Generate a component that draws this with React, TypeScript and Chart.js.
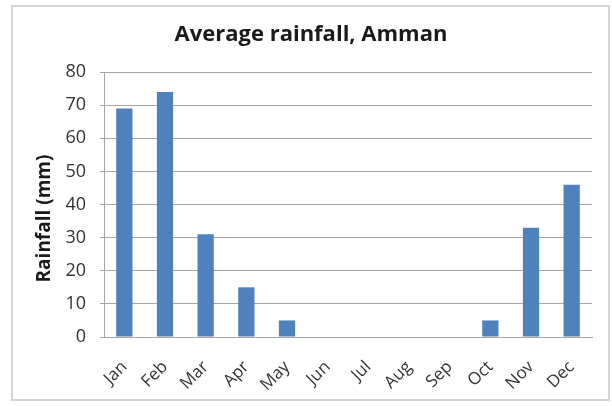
import React, { useEffect, useRef } from "react";
import { Chart, registerables } from "chart.js";

Chart.register(...registerables);

const months = ["Jan", "Feb", "Mar", "Apr", "May", "Jun", "Jul", "Aug", "Sep", "Oct", "Nov", "Dec"];
const rainfall = [69, 74, 31, 15, 5, 0, 0, 0, 0, 5, 33, 46];
const chartTitle = "Average rainfall, Amman";
const yAxisTitle = "Rainfall (mm)";
const yMin = 0;
const yMax = 80;
const yStep = 10;

const W = 612;
const H = 406;
const FONT = "'Open Sans', Lato, sans-serif";

const frame = {
  id: "frame",
  beforeDraw(chart: any) {
    const ctx = chart.ctx;
    ctx.save();
    ctx.fillStyle = "#ffffff";
    ctx.fillRect(0, 0, W, H);
    ctx.strokeStyle = "#d4d4d4";
    ctx.lineWidth = 2;
    ctx.strokeRect(12, 6, 597, 394);
    ctx.restore();
  },
};

const axisTitle = {
  id: "axisTitle",
  afterDraw(chart: any) {
    const ctx = chart.ctx;
    const area = chart.chartArea;
    ctx.save();
    ctx.translate(45, (area.top + area.bottom) / 2 + 14);
    ctx.rotate(-Math.PI / 2);
    ctx.fillStyle = "#1a1a1a";
    ctx.font = `bold 19px ${FONT}`;
    ctx.textAlign = "center";
    ctx.textBaseline = "middle";
    ctx.fillText(yAxisTitle, 0, 0);
    ctx.restore();
  },
};

export default function App() {
  const ref = useRef<HTMLCanvasElement>(null);
  useEffect(() => {
    const chart = new Chart(ref.current!, {
      type: "bar",
      data: {
        labels: months,
        datasets: [
          {
            data: rainfall,
            backgroundColor: "#4F81BD",
            borderWidth: 0,
            barPercentage: 0.8,
            categoryPercentage: 0.5,
          },
        ],
      },
      plugins: [frame, axisTitle],
      options: {
        responsive: false,
        animation: false,
        devicePixelRatio: 1,
        layout: { padding: { left: 30, right: 20, top: 0, bottom: 0 } },
        plugins: {
          legend: { display: false },
          tooltip: { enabled: false },
          title: {
            display: true,
            text: chartTitle,
            color: "#1a1a1a",
            font: { family: FONT, size: 22, weight: "bold", lineHeight: 1.2 },
            padding: { top: 21.8, bottom: 23.8 },
          },
        },
        scales: {
          x: {
            grid: { display: false, drawTicks: false },
            border: { display: true, color: "#a6a6a6", width: 1 },
            ticks: {
              color: "#333333",
              font: { family: FONT, size: 17 },
              maxRotation: 45,
              minRotation: 45,
              padding: 20,
            },
            afterFit(scale: any) {
              scale.height = 69;
            },
          },
          y: {
            min: yMin,
            max: yMax,
            grid: { color: "#a6a6a6", lineWidth: 1, tickLength: 4, drawTicks: true },
            border: { display: true, color: "#a6a6a6", width: 1 },
            ticks: {
              stepSize: yStep,
              color: "#333333",
              font: { family: FONT, size: 18 },
              padding: 14,
            },
            afterFit(scale: any) {
              scale.width = 74;
            },
          },
        },
      },
    });
    return () => chart.destroy();
  }, []);
  return (
    <div style={{ position: "absolute", left: 0, top: 0, width: W, height: H }}>
      <canvas ref={ref} width={W} height={H} />
    </div>
  );
}
